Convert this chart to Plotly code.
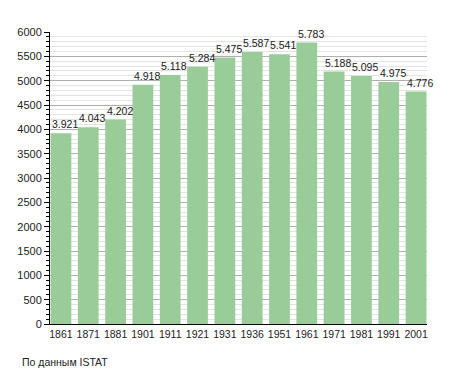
import plotly.graph_objects as go

years = ["1861", "1871", "1881", "1901", "1911", "1921", "1931", "1936", "1951", "1961", "1971", "1981", "1991", "2001"]
population = [3921, 4043, 4202, 4918, 5118, 5284, 5475, 5587, 5541, 5783, 5188, 5095, 4975, 4776]
labels = [f"{v:,}".replace(",", ".") for v in population]

FONT = "Liberation Sans, Arial, sans-serif"

fig = go.Figure()
fig.add_trace(go.Bar(
    x=years, y=population,
    marker=dict(color="#99cc99", line=dict(width=0)),
    hoverinfo="x+y",
))

# page has an 8px body margin, so the figure is sized/offset to compensate
OFF = 8
W, H = 455 - OFF, 373 - OFF
L, R, T, B = 50 - OFF, 28, 32 - OFF, 49

# category axis: place labels by category index (numeric-looking names would be misread)
value_labels = [dict(x=i, y=v, text=t, xref="x", yref="y", showarrow=False,
                     xanchor="left", yanchor="bottom", xshift=-11, yshift=1,
                     font=dict(family=FONT, size=10.5, color="#222"))
                for i, (v, t) in enumerate(zip(population, labels))]

footer = dict(text="По данным ISTAT", xref="paper", yref="paper",
              x=(20 - 50) / (W - L - R), y=(373 - 49 - 362) / (H - T - B),
              showarrow=False, xanchor="left", yanchor="middle",
              font=dict(size=10.5, color="#222"))

fig.update_layout(
    width=W, height=H,
    margin=dict(l=L, r=R, t=T, b=B, autoexpand=False),
    paper_bgcolor="white", plot_bgcolor="white",
    bargap=0.24,
    showlegend=False,
    font=dict(family=FONT, size=11, color="#222"),
    xaxis=dict(type="category", range=[-0.40, len(years) - 0.60],
               showline=True, linecolor="black", linewidth=1,
               ticks="", showgrid=False, tickangle=0,
               tickfont=dict(size=10.5), automargin=False),
    yaxis=dict(range=[0, 6000], dtick=500, showline=True, linecolor="black", linewidth=1,
               ticks="outside", ticklen=5, tickcolor="black",
               showgrid=True, gridcolor="#b0b0b0", gridwidth=1,
               minor=dict(dtick=100, showgrid=True, gridcolor="#e4e4e4", ticks="outside",
                          ticklen=3, tickcolor="black"),
               zeroline=False, tickfont=dict(size=11), automargin=False),
    annotations=value_labels + [footer],
)

fig.write_html("out.html")
